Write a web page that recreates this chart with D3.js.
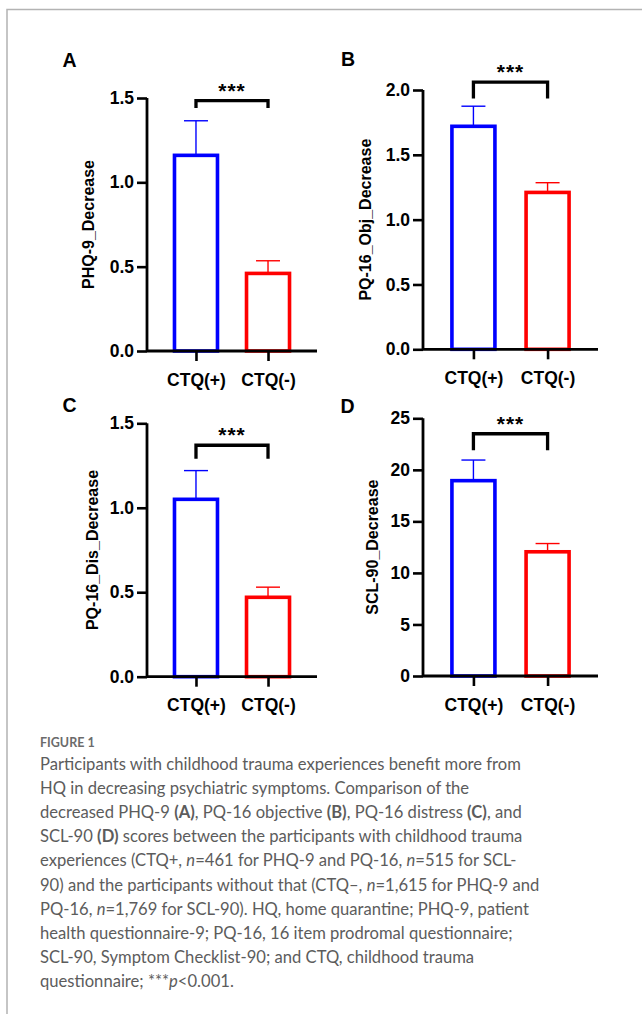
<!DOCTYPE html>
<html>
<head>
<meta charset="utf-8">
<script src="https://cdn.jsdelivr.net/npm/d3@7"></script>
<style>
  body { margin: 0; background: #fff; }
  svg { display: block; }
</style>
</head>
<body>
<div id="d3-container"></div>
<script>
/**
 * DATA
 * */
const groups = ["CTQ(+)", "CTQ(-)"];
const panelLetters = ["A", "B", "C", "D"];
const yLabels = ["PHQ-9_Decrease", "PQ-16_Obj_Decrease", "PQ-16_Dis_Decrease", "SCL-90_Decrease"];
const means = [[1.16, 0.46], [1.72, 1.21], [1.05, 0.47], [18.95, 12.05]];
const sems = [[0.205, 0.075], [0.155, 0.075], [0.17, 0.06], [2.0, 0.8]];
const yMax = [1.5, 2.0, 1.5, 25];
const yTicks = [[0, 0.5, 1.0, 1.5], [0, 0.5, 1.0, 1.5, 2.0], [0, 0.5, 1.0, 1.5], [0, 5, 10, 15, 20, 25]];
const tickFormats = [".1f", ".1f", ".1f", "d"];
// significance bracket: top line and foot (in data units)
const bracketTop = [1.485, 2.06, 1.37, 23.5];
const bracketFoot = [1.44, 1.935, 1.29, 21.9];
const sigText = "***";

const captionTitle = "FIGURE 1";
// each line: list of [text, style]  (n = normal, b = bold, i = italic)
const captionLines = [
  [["Participants with childhood trauma experiences benefit more from", "n"]],
  [["HQ in decreasing psychiatric symptoms. Comparison of the", "n"]],
  [["decreased PHQ-9 ", "n"], ["(A)", "b"], [", PQ-16 objective ", "n"], ["(B)", "b"], [", PQ-16 distress ", "n"], ["(C)", "b"], [", and", "n"]],
  [["SCL-90 ", "n"], ["(D)", "b"], [" scores between the participants with childhood trauma", "n"]],
  [["experiences (CTQ+, ", "n"], ["n", "i"], ["=461 for PHQ-9 and PQ-16, ", "n"], ["n", "i"], ["=515 for SCL-", "n"]],
  [["90) and the participants without that (CTQ\u2013, ", "n"], ["n", "i"], ["=1,615 for PHQ-9 and", "n"]],
  [["PQ-16, ", "n"], ["n", "i"], ["=1,769 for SCL-90). HQ, home quarantine; PHQ-9, patient", "n"]],
  [["health questionnaire-9; PQ-16, 16 item prodromal questionnaire;", "n"]],
  [["SCL-90, Symptom Checklist-90; and CTQ, childhood trauma", "n"]],
  [["questionnaire; ***", "n"], ["p", "i"], ["<0.001.", "n"]],
];

/**
 * LAYOUT
 * */
const width = 642, height = 1014;
const colors = ["#0000ff", "#ff0000"];
const font = "'Liberation Sans', Arial, sans-serif";
const panels = [
  { x0: 147, x1: 317, yBase: 351, yTop: 98, letter: [62.5, 66.5], labelX: 94 },
  { x0: 423, x1: 598, yBase: 349.3, yTop: 90, letter: [341, 66], labelX: 371 },
  { x0: 147, x1: 317, yBase: 676.7, yTop: 423.3, letter: [62.5, 412], labelX: 97.5 },
  { x0: 423, x1: 598, yBase: 676, yTop: 418.3, letter: [340.5, 412.5], labelX: 377.5 },
];

const svg = d3.select("#d3-container")
  .append("svg")
  .attr("width", width)
  .attr("height", height);

svg.append("rect").attr("width", width).attr("height", height).attr("fill", "#fff");

// frame lines top and left
svg.append("path")
  .attr("d", `M7,${height} V9.5 H${width}`)
  .attr("fill", "none")
  .attr("stroke", "#b3b3b3")
  .attr("stroke-width", 1.5);

panels.forEach((p, i) => {
  const g = svg.append("g");

  const y = d3.scaleLinear().domain([0, yMax[i]]).range([p.yBase, p.yTop]);
  const x = d3.scalePoint().domain(groups).range([p.x0, p.x1]).padding(0.68);
  const barW = 43;

  const data = groups.map((name, j) => ({ name, mean: means[i][j], sem: sems[i][j], color: colors[j] }));

  // error bars (upper only)
  g.selectAll("line.err")
    .data(data)
    .join("line")
    .attr("class", "err")
    .attr("x1", d => x(d.name)).attr("x2", d => x(d.name))
    .attr("y1", d => y(d.mean)).attr("y2", d => y(d.mean + d.sem))
    .attr("stroke", d => d.color).attr("stroke-width", 1.4);
  g.selectAll("line.cap")
    .data(data)
    .join("line")
    .attr("class", "cap")
    .attr("x1", d => x(d.name) - 12).attr("x2", d => x(d.name) + 12)
    .attr("y1", d => y(d.mean + d.sem)).attr("y2", d => y(d.mean + d.sem))
    .attr("stroke", d => d.color).attr("stroke-width", 1.4);

  // bars
  g.selectAll("rect.bar")
    .data(data)
    .join("rect")
    .attr("class", "bar")
    .attr("x", d => x(d.name) - barW / 2)
    .attr("width", barW)
    .attr("y", d => y(d.mean))
    .attr("height", d => y(0) - y(d.mean))
    .attr("fill", "#fff")
    .attr("stroke", d => d.color)
    .attr("stroke-width", 3.6);

  // y axis
  const yAxis = g.append("g")
    .attr("transform", `translate(${p.x0},0)`)
    .call(d3.axisLeft(y).tickValues(yTicks[i]).tickFormat(d3.format(tickFormats[i])).tickSize(10).tickPadding(3));
  // x axis
  const xAxis = g.append("g")
    .attr("transform", `translate(0,${p.yBase})`)
    .call(d3.axisBottom(x).tickSize(10).tickPadding(8));

  [yAxis, xAxis].forEach(ax => {
    ax.select(".domain").attr("stroke", "#000").attr("stroke-width", 2.8);
    ax.selectAll(".tick line").attr("stroke", "#000").attr("stroke-width", 2.6);
    ax.selectAll(".tick text")
      .attr("fill", "#000")
      .style("font-family", font)
      .style("font-weight", "bold")
      .style("font-size", "17.5px");
  });
  yAxis.select(".domain").attr("d", `M0,${p.yTop}V${p.yBase}`);
  xAxis.select(".domain").attr("d", `M${p.x0},0H${p.x1}`);
  xAxis.selectAll(".tick text").attr("dy", "0.95em");

  // y label
  g.append("text")
    .attr("transform", `translate(${p.labelX},${(p.yBase + p.yTop) / 2}) rotate(-90)`)
    .attr("text-anchor", "middle")
    .style("font-family", font)
    .style("font-weight", "bold")
    .style("font-size", "16px")
    .text(yLabels[i]);

  // panel letter
  g.append("text")
    .attr("x", p.letter[0]).attr("y", p.letter[1])
    .style("font-family", font)
    .style("font-weight", "bold")
    .style("font-size", "19.5px")
    .text(panelLetters[i]);

  // significance bracket
  const xa = x(groups[0]), xb = x(groups[1]);
  g.append("path")
    .attr("d", `M${xa},${y(bracketFoot[i])} V${y(bracketTop[i])} H${xb} V${y(bracketFoot[i])}`)
    .attr("fill", "none")
    .attr("stroke", "#000")
    .attr("stroke-width", 3.3);
  g.append("text")
    .attr("x", (xa + xb) / 2)
    .attr("y", y(bracketTop[i]) - 3)
    .attr("text-anchor", "middle")
    .style("font-family", font)
    .style("font-weight", "bold")
    .style("font-size", "21px")
    .style("letter-spacing", "1px")
    .text(sigText);
});

// caption
const capFont = "Lato, 'Open Sans', sans-serif";
svg.append("text")
  .attr("x", 40).attr("y", 746.5)
  .attr("fill", "#6b6b6b")
  .style("font-family", capFont)
  .style("font-size", "12.5px")
  .style("font-weight", "bold")
  .text(captionTitle);

const capText = svg.append("g")
  .style("font-family", capFont)
  .style("font-size", "16.6px")
  .attr("fill", "#5c5c5c");

captionLines.forEach((line, k) => {
  const t = capText.append("text")
    .attr("x", 40)
    .attr("y", 770 + k * 24.1);
  line.forEach(([s, st]) => {
    t.append("tspan")
      .style("font-weight", st === "b" ? "bold" : "normal")
      .style("font-style", st === "i" ? "italic" : "normal")
      .text(s);
  });
});
</script>
</body>
</html>
